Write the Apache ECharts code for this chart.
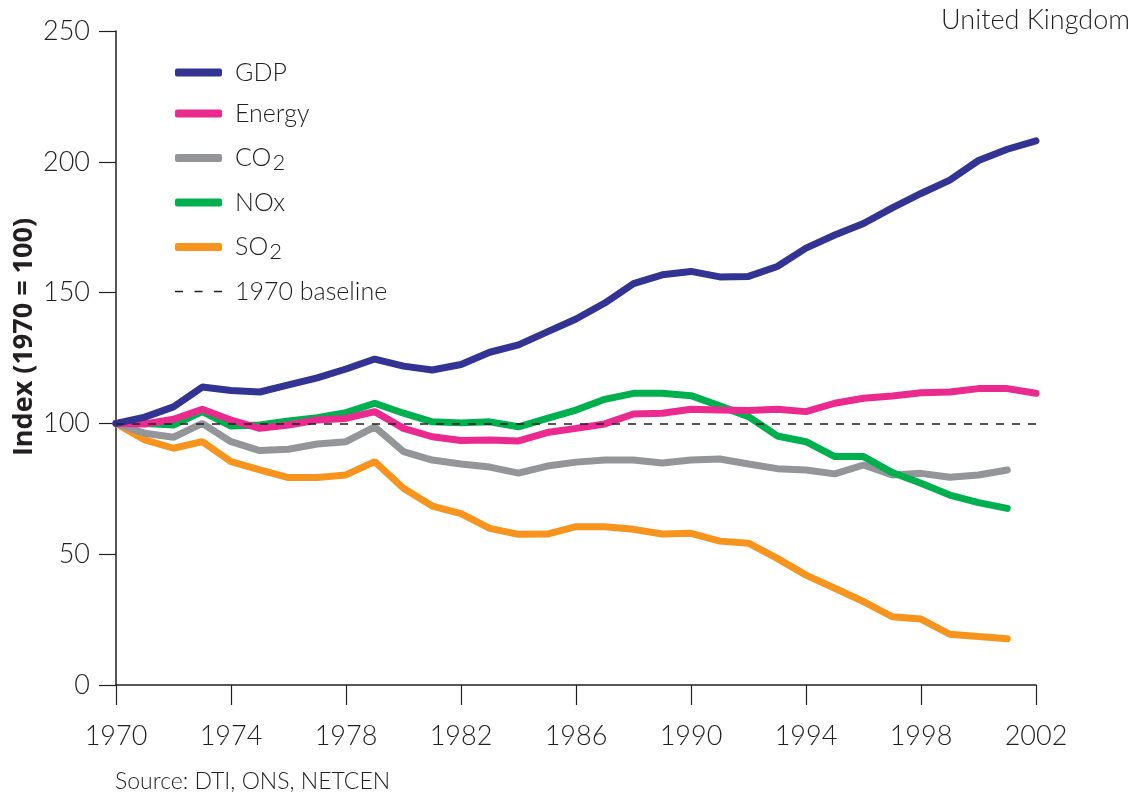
<!DOCTYPE html>
<html>
<head>
<meta charset="utf-8">
<script src="https://cdn.jsdelivr.net/npm/echarts@6/dist/echarts.min.js"></script>
<style>
html, body { margin: 0; padding: 0; background: #fff; }
#container { width: 1139px; height: 795px; }
</style>
</head>
<body>
<div id="container"></div>
<script>
var dom = document.getElementById("container");
var myChart = echarts.init(dom);
var option;

var years = ['1970','1971','1972','1973','1974','1975','1976','1977','1978','1979',
             '1980','1981','1982','1983','1984','1985','1986','1987','1988','1989',
             '1990','1991','1992','1993','1994','1995','1996','1997','1998','1999',
             '2000','2001','2002'];
var gdp    = [100, 102.4, 106.3, 113.9, 112.6, 112, 114.7, 117.4, 120.8, 124.6,
              121.9, 120.4, 122.5, 127.2, 130, 135, 139.9, 146, 153.4, 156.8,
              158.1, 156, 156.2, 160, 167, 172, 176.4, 182.4, 187.9, 193,
              200.5, 204.8, 208];
var energy = [100, 99.8, 101.6, 105.4, 101.3, 98.1, 99.4, 101.3, 101.9, 104.5,
              98.1, 94.9, 93.5, 93.7, 93.3, 96.5, 98.1, 99.8, 103.6, 103.9,
              105.4, 105.1, 104.9, 105.4, 104.5, 107.7, 109.6, 110.5, 111.7, 112,
              113.3, 113.3, 111.5];
var co2    = [100, 96.2, 94.7, 100, 93, 89.6, 90.1, 92.1, 93, 98.7,
              89.2, 86, 84.5, 83.3, 81, 83.7, 85.2, 86, 86, 84.9,
              86, 86.4, 84.5, 82.7, 82.2, 80.7, 84.1, 80.3, 80.9, 79.4,
              80.3, 82.2, null];
var nox    = [100, 100, 99.4, 104.5, 99, 99.4, 100.9, 102.2, 104.1, 107.7,
              103.9, 100.6, 100.2, 100.6, 98.7, 101.9, 105.1, 109.2, 111.5, 111.5,
              110.6, 106.7, 102.6, 95.2, 93, 87.3, 87.3, 81.2, 77.1, 72.6,
              69.7, 67.5, null];
var so2    = [100, 93.7, 90.5, 93, 85.4, 82.2, 79.3, 79.3, 80.3, 85.4,
              75.2, 68.4, 65.5, 59.9, 57.6, 57.7, 60.5, 60.5, 59.5, 57.7,
              58, 55, 54.2, 48.4, 42, 37, 31.9, 26.1, 25.2, 19.4,
              18.5, 17.7, null];
var baselineValue = 100;

var FONT = 'Lato';
var INK = '#231f20';
var DASH_ICON = 'path://M0,0h7v1.5h-7z M17,0h7v1.5h-7z M34,0h7v1.5h-7z';

function lineSeries(name, data, color) {
    return {
        name: name,
        type: 'line',
        data: data,
        symbol: 'none',
        lineStyle: { color: color, width: 7, cap: 'round' },
        itemStyle: { color: color }
    };
}

option = {
    animation: false,
    grid: {
        top: 31,
        bottom: 110,
        left: 116,
        right: 103,
        outerBoundsMode: 'none'
    },
    legend: {
        orient: 'vertical',
        left: 170,
        top: 55,
        itemWidth: 47,
        itemHeight: 8,
        itemGap: 16,
        textStyle: {
            fontFamily: FONT,
            fontWeight: 300,
            fontSize: 25,
            color: INK,
            lineHeight: 25,
            padding: [0, 0, 0, 8],
            rich: {
                a:   { fontFamily: FONT, fontWeight: 300, fontSize: 25, color: INK, lineHeight: 25 },
                sub: { fontFamily: FONT, fontWeight: 300, fontSize: 22, color: INK, lineHeight: 15, padding: [10, 0, 0, 1] }
            }
        },
        formatter: function (name) {
            if (name === 'CO2') return '{a|CO}{sub|2}';
            if (name === 'SO2') return '{a|SO}{sub|2}';
            return name;
        },
        data: [
            { name: 'GDP', icon: 'roundRect' },
            { name: 'Energy', icon: 'roundRect' },
            { name: 'CO2', icon: 'roundRect' },
            { name: 'NOx', icon: 'roundRect' },
            { name: 'SO2', icon: 'roundRect' },
            { name: '1970 baseline', icon: DASH_ICON, itemStyle: { color: INK } }
        ]
    },
    xAxis: {
        type: 'category',
        data: years,
        boundaryGap: false,
        axisLine: { lineStyle: { color: INK, width: 1.5 } },
        axisTick: { interval: 3, length: 20, lineStyle: { color: INK, width: 1.2 } },
        axisLabel: {
            interval: 3,
            margin: 38,
            fontFamily: FONT,
            fontWeight: 300,
            fontSize: 27,
            color: INK
        },
        splitLine: { show: false }
    },
    yAxis: {
        type: 'value',
        min: 0,
        max: 250,
        interval: 50,
        axisLine: { show: true, lineStyle: { color: INK, width: 1.5 } },
        axisTick: { show: true, length: 17, lineStyle: { color: INK, width: 1.2 } },
        axisLabel: {
            margin: 26,
            fontFamily: FONT,
            fontWeight: 300,
            fontSize: 27,
            color: INK
        },
        splitLine: { show: false }
    },
    graphic: [
        {
            type: 'text',
            x: 24,
            y: 337,
            rotation: Math.PI / 2,
            style: {
                text: 'Index (1970 = 100)',
                fontFamily: 'Open Sans',
                fontWeight: 'bold',
                fontSize: 27,
                fill: INK,
                align: 'center',
                verticalAlign: 'middle'
            }
        },
        {
            type: 'text',
            right: 9,
            top: 7,
            style: {
                text: 'United Kingdom',
                fontFamily: FONT,
                fontWeight: 300,
                fontSize: 27,
                fill: INK
            }
        },
        {
            type: 'text',
            left: 115,
            top: 770,
            style: {
                text: 'Source: DTI, ONS, NETCEN',
                fontFamily: FONT,
                fontWeight: 300,
                fontSize: 23,
                fill: INK
            }
        }
    ],
    series: [
        lineSeries('SO2', so2, '#f7941e'),
        lineSeries('CO2', co2, '#939598'),
        lineSeries('NOx', nox, '#00b04f'),
        lineSeries('Energy', energy, '#ea2a8e'),
        lineSeries('GDP', gdp, '#323392'),
        {
            name: '1970 baseline',
            type: 'line',
            data: [],
            symbol: 'none',
            z: 5,
            lineStyle: { color: INK, width: 1.5, type: [8, 8] },
            itemStyle: { color: INK },
            markLine: {
                silent: true,
                symbol: 'none',
                label: { show: false },
                lineStyle: { color: INK, width: 1.5, type: [8, 8] },
                data: [{ yAxis: baselineValue }]
            }
        }
    ]
};
if (option && typeof option === 'object') {
    myChart.setOption(option);
}
</script>
</body>
</html>
